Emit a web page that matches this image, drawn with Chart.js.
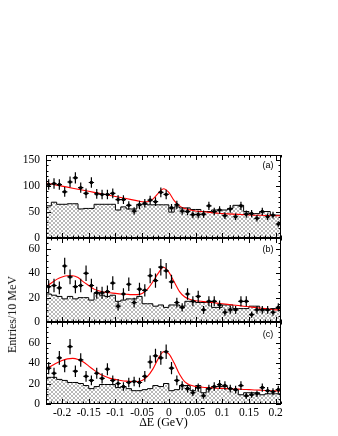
<!DOCTYPE html>
<html lang="en">
<head>
    <meta charset="UTF-8">
    <title>Delta E fits</title>
    <script src="https://cdn.jsdelivr.net/npm/chart.js"></script>
    <style>
        body { margin: 0; background: #fff; }
        .wrap { position: relative; width: 338px; height: 436px; overflow: hidden; }
        .wrap canvas { position: absolute; left: 0; }
        .ytitle {
            position: absolute; left: 5px; top: 276px;
            writing-mode: vertical-rl; transform: rotate(180deg);
            white-space: nowrap; font: 12px 'Liberation Serif', serif; color: #111;
        }
    </style>
</head>
<body>
    <div class="wrap">
        <canvas id="panelA" width="338" height="95" style="top:149px"></canvas>
        <canvas id="panelB" width="338" height="96" style="top:232px"></canvas>
        <canvas id="panelC" width="338" height="120" style="top:316px"></canvas>
        <div class="ytitle">Entries/10 MeV</div>
    </div>

    <script>
        // bin edges / centres (10 MeV bins)
        const edges = [-0.23, -0.22, -0.21, -0.20, -0.19, -0.18, -0.17, -0.16, -0.15, -0.14, -0.13, -0.12,
            -0.11, -0.10, -0.09, -0.08, -0.07, -0.06, -0.05, -0.04, -0.03, -0.02, -0.01, 0.00, 0.01,
            0.02, 0.03, 0.04, 0.05, 0.06, 0.07, 0.08, 0.09, 0.10, 0.11, 0.12, 0.13, 0.14, 0.15, 0.16,
            0.17, 0.18, 0.19, 0.20, 0.21];
        const centers = [-0.225, -0.215, -0.205, -0.195, -0.185, -0.175, -0.165, -0.155, -0.145, -0.135,
            -0.125, -0.115, -0.105, -0.095, -0.085, -0.075, -0.065, -0.055, -0.045, -0.035, -0.025,
            -0.015, -0.005, 0.005, 0.015, 0.025, 0.035, 0.045, 0.055, 0.065, 0.075, 0.085, 0.095,
            0.105, 0.115, 0.125, 0.135, 0.145, 0.155, 0.165, 0.175, 0.185, 0.195, 0.205];
        const xTickVals = [-0.2, -0.15, -0.1, -0.05, 0, 0.05, 0.1, 0.15, 0.2];
        const xTickLabels = ['-0.2', '-0.15', '-0.1', '-0.05', '0', '0.05', '0.1', '0.15', '0.2'];

        // (a)
        const dataA = [103, 105, 103, 89, 108, 116, 97, 86, 107, 85, 84, 84, 86, 74, 74, 63, 52, 64, 67, 73,
            70, 88, 84, 58, 64, 52, 51, 45, 45, 46, 62, 51, 54, 43, 56, 41, 62, 46, 47, 38, 51, 41, 44, 27];
        const bkgA = [62, 69, 65, 65, 66, 66, 56, 57, 57, 65, 65, 65, 65, 54, 60, 56, 56, 65, 65, 64, 64, 64,
            64, 50, 60, 58, 58, 55, 55, 51, 51, 54, 54, 54, 57, 63, 63, 51, 47, 47, 51, 51, 44, 44];
        const fitA = [106, 104, 102, 100, 98, 96, 94, 92, 90, 88, 86, 84, 82, 80, 78, 76, 74, 72, 70, 70, 75,
            86, 95, 88, 72, 62, 57, 54, 52, 51, 50, 49, 48, 47, 46.5, 46, 45.5, 45, 44.5, 44, 44, 43.5,
            43.5, 43, 43];
        const yTicksA = [0, 50, 100, 150];

        // (b)
        const dataB = [29, 30, 28, 46, 37, 29, 30, 40, 30, 24, 24, 25, 32, 13, 23, 31, 16, 27, 26, 38, 34, 45,
            42, 33, 16, 12, 23, 17, 21, 10, 17, 17, 14, 8, 10, 10, 17, 17, 6, 10, 10, 10, 8, 12];
        const bkgB = [23, 22, 21, 19, 21, 19, 20, 20, 18, 24, 22, 21, 22, 17, 18, 19, 19, 21, 15, 15, 13, 14,
            12, 14, 14, 13, 17, 17, 16, 16, 16, 12, 12, 14, 14, 11, 11, 11, 13, 13, 10, 10, 11, 11];
        const fitB = [29, 32, 35, 37, 38, 38, 36.5, 33, 30, 27, 25.5, 24.5, 24, 23.5, 23, 22.8, 22.5, 22.5,
            23.5, 27, 33, 40, 45, 41, 33, 25, 20.5, 18.5, 17.5, 17, 16.5, 16, 15.5, 15, 14.5, 14, 13.5, 13,
            12.5, 12, 11.5, 11, 10.5, 10, 10];

        // (c)
        const dataC = [35, 30, 45, 37, 56, 32, 43, 27, 23, 30, 25, 34, 23, 20, 17, 21, 22, 21, 27, 41, 47, 45,
            51, 35, 23, 18, 15, 11, 16, 8, 15, 17, 19, 18, 15, 14, 18, 8, 9, 10, 16, 13, 12, 14];
        const bkgC = [26, 26, 24, 23, 21, 21, 20, 18, 15, 17, 19, 19, 19, 16, 17, 15, 13, 13, 14, 15, 18, 17,
            20, 13, 14, 18, 18, 13, 18, 11, 15, 17, 17, 17, 15, 14, 9, 11, 11, 11, 9, 10, 10, 10];
        const fitC = [34, 37, 40, 42.5, 44, 44.5, 43.5, 41, 37, 33, 29.5, 27, 25, 24, 23, 22.3, 22, 22, 23, 27,
            34, 44, 51, 49, 40, 29, 21.5, 18.5, 17, 16.5, 16, 15.7, 15.4, 15.2, 15, 14.7, 14.5, 14.2, 14,
            13.7, 13.5, 13.2, 13, 12.8, 12.6];
        const yTicksBC = [0, 20, 40, 60];

        Chart.defaults.font.family = "'Liberation Serif', serif";
        Chart.defaults.color = '#000';

        // cross hatch for the background histogram
        function hatch() {
            const c = document.createElement('canvas');
            c.width = 8; c.height = 8;
            const g = c.getContext('2d');
            g.strokeStyle = '#888';
            g.lineWidth = 0.6;
            for (let k = -8; k <= 8; k += 4) {
                g.beginPath(); g.moveTo(k, 0); g.lineTo(k + 8, 8); g.stroke();
                g.beginPath(); g.moveTo(k, 8); g.lineTo(k + 8, 0); g.stroke();
            }
            return g.createPattern(c, 'repeat');
        }
        const hatchFill = hatch();

        // error bars, frame, inner ticks, panel label
        const framePlugin = {
            id: 'frame',
            afterDatasetsDraw(chart) {
                const ctx = chart.ctx, a = chart.chartArea;
                const xs = chart.scales.x, ys = chart.scales.y;
                ctx.save();
                ctx.beginPath(); ctx.rect(a.left, a.top, a.right - a.left, a.bottom - a.top); ctx.clip();
                ctx.strokeStyle = '#000';
                ctx.lineWidth = 1.2;
                ctx.beginPath();
                chart.data.datasets[0].data.forEach(p => {
                    const e = Math.sqrt(p.y);
                    const px = xs.getPixelForValue(p.x), py = ys.getPixelForValue(p.y);
                    ctx.moveTo(px, ys.getPixelForValue(p.y + e));
                    ctx.lineTo(px, ys.getPixelForValue(p.y - e));
                    ctx.moveTo(xs.getPixelForValue(p.x - 0.005), py);
                    ctx.lineTo(xs.getPixelForValue(p.x + 0.005), py);
                });
                ctx.stroke();
                ctx.restore();
            },
            afterDraw(chart, args, opts) {
                const ctx = chart.ctx, a = chart.chartArea;
                const xs = chart.scales.x, ys = chart.scales.y;
                ctx.save();
                ctx.strokeStyle = '#000';
                ctx.lineWidth = 1;
                ctx.strokeRect(a.left + 0.5, a.top + 0.5, a.right - a.left - 1, a.bottom - a.top - 1);
                ctx.beginPath();
                for (let k = -23; k <= 21; k++) {
                    const px = Math.round(xs.getPixelForValue(k / 100)) + 0.5;
                    const len = k % 5 === 0 ? 5 : 2.5;
                    ctx.moveTo(px, a.bottom); ctx.lineTo(px, a.bottom - len);
                    ctx.moveTo(px, a.top); ctx.lineTo(px, a.top + len);
                }
                for (let v = 0; v <= ys.max; v += opts.minor) {
                    const py = Math.round(ys.getPixelForValue(v)) + 0.5;
                    const len = v % opts.major === 0 ? 5 : 2.5;
                    ctx.moveTo(a.left, py); ctx.lineTo(a.left + len, py);
                    ctx.moveTo(a.right, py); ctx.lineTo(a.right - len, py);
                }
                ctx.stroke();
                ctx.fillStyle = '#000';
                ctx.font = "9px 'Liberation Sans', sans-serif";
                ctx.textAlign = 'center';
                ctx.textBaseline = 'middle';
                ctx.fillText(opts.label, 268, a.top + opts.labelY);
                ctx.restore();
            }
        };

        function makePanel(id, p) {
            return new Chart(document.getElementById(id), {
                type: 'line',
                data: {
                    datasets: [
                        {
                            label: 'data',
                            data: centers.map((x, i) => ({ x: x, y: p.data[i] })),
                            showLine: false,
                            pointRadius: 1.8,
                            pointBackgroundColor: '#000',
                            pointBorderWidth: 0,
                            order: 0
                        },
                        {
                            label: 'fit',
                            data: edges.map((x, i) => ({ x: x, y: p.fit[i] })),
                            borderColor: '#ff0000',
                            borderWidth: 1.1,
                            pointRadius: 0,
                            cubicInterpolationMode: 'monotone',
                            order: 1
                        },
                        {
                            label: 'background',
                            data: edges.map((x, i) => ({ x: x, y: p.bkg[Math.min(i, p.bkg.length - 1)] })),
                            stepped: 'before',
                            borderColor: '#000',
                            borderWidth: 1,
                            pointRadius: 0,
                            fill: 'origin',
                            backgroundColor: hatchFill,
                            order: 2
                        }
                    ]
                },
                options: {
                    responsive: false,
                    animation: false,
                    devicePixelRatio: 1,
                    layout: { padding: { top: 6, bottom: p.showX ? 2 : 6, left: 0, right: 57 } },
                    plugins: {
                        legend: { display: false },
                        tooltip: { enabled: false },
                        frame: { label: p.label, labelY: p.labelY, major: p.major, minor: p.minor }
                    },
                    scales: {
                        x: {
                            type: 'linear',
                            min: -0.23,
                            max: 0.21,
                            display: p.showX,
                            grid: { display: false, drawTicks: false },
                            border: { display: false },
                            afterBuildTicks: s => { s.ticks = xTickVals.map(v => ({ value: v })); },
                            ticks: {
                                padding: 2,
                                maxRotation: 0,
                                autoSkip: false,
                                font: { size: 11.5 },
                                callback: (v, i) => xTickLabels[i]
                            },
                            title: {
                                display: true,
                                text: 'ΔE (GeV)',
                                font: { size: 12 },
                                padding: { top: 0, bottom: 4 }
                            },
                            afterFit: s => { s.height = p.showX ? 30 : 0; s.paddingLeft = 0; s.paddingRight = 0; }
                        },
                        y: {
                            min: 0,
                            max: p.ymax,
                            grid: { display: false, drawTicks: false },
                            border: { display: false },
                            afterBuildTicks: s => { s.ticks = p.yTicks.map(v => ({ value: v })); },
                            ticks: { padding: 6, font: { size: 11.5 } },
                            afterFit: s => { s.width = 46; s.paddingTop = 0; s.paddingBottom = 0; }
                        }
                    }
                },
                plugins: [framePlugin]
            });
        }

        makePanel('panelA', { data: dataA, bkg: bkgA, fit: fitA, ymax: 160, yTicks: yTicksA, major: 50, minor: 10, label: '(a)', labelY: 11, showX: false });
        makePanel('panelB', { data: dataB, bkg: bkgB, fit: fitB, ymax: 69, yTicks: yTicksBC, major: 20, minor: 5, label: '(b)', labelY: 12, showX: false });
        makePanel('panelC', { data: dataC, bkg: bkgC, fit: fitC, ymax: 80, yTicks: yTicksBC, major: 20, minor: 5, label: '(c)', labelY: 13, showX: true });
    </script>
</body>
</html>
